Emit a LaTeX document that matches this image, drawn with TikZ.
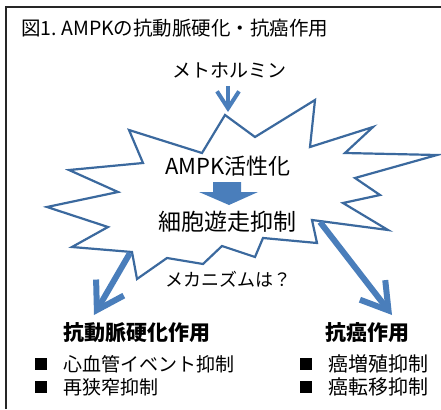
\documentclass[tikz,border=0pt]{standalone}
\usepackage{fontspec}
\setmainfont{Noto Sans CJK JP}
\usetikzlibrary{arrows.meta}
\definecolor{burst}{HTML}{3B699E}
\definecolor{arr}{HTML}{4A7EBB}
\begin{document}
\begin{tikzpicture}[x=1pt,y=-1pt,
  lbl/.style={inner sep=0pt, anchor=center, text=black},
  bigarrow/.style={draw=arr, line width=6pt, -{Straight Barb[length=26pt,width=32pt,line width=6pt]}},
  smallarrow/.style={draw=arr, line width=4pt, -{Straight Barb[length=17pt,width=22pt,line width=4pt]}},
  bullet/.style={fill=black, minimum size=12pt, inner sep=0pt},
]
\useasboundingbox (0,0) rectangle (441,409);
\draw[line width=1.5pt, black!85] (6,409) -- (6,7) -- (441,7);

\node[lbl, anchor=west] (title) at (21,28) {\fontsize{19.5}{19.5}\selectfont 図1.~AMPKの抗動脈硬化・抗癌作用};

\draw[burst, line width=2.2pt, fill=white, line join=miter]
 (225,115) -- (255,137) -- (315,100) -- (310,147) -- (373,127) -- (345,153) -- (437,155) -- (355,178) -- (380,195) -- (343,203) -- (388,230) -- (312,220) -- (317,243) -- (263,238) -- (255,257) -- (222,246) -- (203,264) -- (167,258) -- (137,279) -- (132,252) -- (72,247) -- (108,227) -- (47,207) -- (118,192) -- (69,170) -- (143,163) -- (129,130) -- (202,153) -- cycle;

\node[lbl] (met) at (229,70) {\fontsize{19}{19}\selectfont メトホルミン};
\coordinate (topstart) at (228,86);
\coordinate (toptip) at (228,112);
\draw[smallarrow] (topstart) -- (toptip);

\node[lbl] (ampk) at (228,166) {\fontsize{22}{22}\selectfont AMPK活性化};
\node[lbl] (cell) at (227,222) {\fontsize{23}{23}\selectfont 細胞遊走抑制};
\fill[arr] (213,182) -- (241,182) -- (241,192) -- (258,192) -- (229,205) -- (199,192) -- (213,192) -- cycle;

\node[lbl] (mech) at (228,279) {\fontsize{18}{18}\selectfont メカニズムは？};

\coordinate (ls) at (130,253);
\coordinate (lt) at (94,315);
\coordinate (rs) at (320,222);
\coordinate (rt) at (392,315);
\draw[bigarrow] (ls) -- (lt);
\draw[bigarrow] (rs) -- (rt);

\node[lbl, anchor=west] (athero) at (63,333) {\fontsize{21}{21}\selectfont\bfseries 抗動脈硬化作用};
\node[lbl, anchor=west] (cancer) at (325,333) {\fontsize{21}{21}\selectfont\bfseries 抗癌作用};

\node[bullet] (b1) at (41,364) {};
\node[bullet] (b2) at (41,387) {};
\node[bullet] (b3) at (306,364) {};
\node[bullet] (b4) at (306,387) {};
\node[lbl, anchor=west] (t1) at (63,364) {\fontsize{19}{19}\selectfont 心血管イベント抑制};
\node[lbl, anchor=west] (t2) at (63,387) {\fontsize{19}{19}\selectfont 再狭窄抑制};
\node[lbl, anchor=west] (t3) at (328,364) {\fontsize{20}{20}\selectfont 癌増殖抑制};
\node[lbl, anchor=west] (t4) at (328,387) {\fontsize{20}{20}\selectfont 癌転移抑制};
\end{tikzpicture}
\end{document}
